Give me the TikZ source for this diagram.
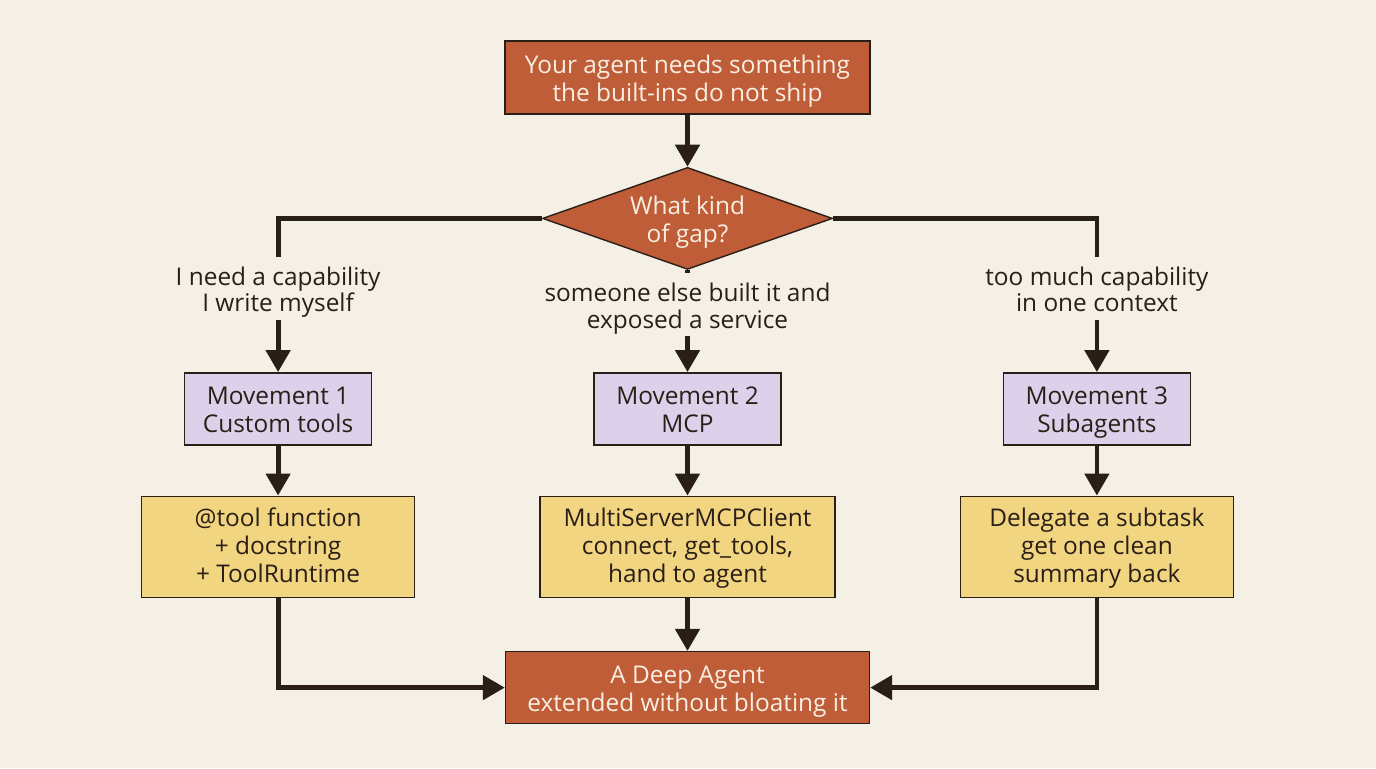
\documentclass[tikz,border=0pt]{standalone}
\usepackage{fontspec}
\setmainfont{Open Sans}
\usetikzlibrary{positioning,shapes.geometric,arrows.meta}
\definecolor{paper}{HTML}{F4F0E5}
\definecolor{rust}{HTML}{BF5D38}
\definecolor{lilac}{HTML}{DCD1EA}
\definecolor{butter}{HTML}{F2D581}
\definecolor{ink}{HTML}{2A1F17}
\definecolor{cream}{HTML}{F8EFE2}

\begin{document}
\begin{tikzpicture}[
  x=0.5pt, y=-0.5pt,
  font=\fontsize{12.2}{14}\selectfont,
  box/.style={draw=ink, line width=0.7pt, align=center, inner sep=0pt,
    text height=27pt, text depth=3pt},
  endbox/.style={box, fill=rust, text=cream, minimum width=182.5pt, minimum height=36.5pt},
  choice/.style={diamond, box, fill=rust, text=cream,
    aspect=2.84, minimum width=145pt, minimum height=51pt},
  movebox/.style={box, fill=lilac, text=ink, minimum width=93.5pt, minimum height=36pt},
  howbox/.style={box, fill=butter, text=ink, minimum width=136.5pt, minimum height=50.5pt,
    text height=38.5pt},
  flow/.style={draw=ink, line width=2.4pt, -{Triangle[length=11pt,width=12pt]}},
  lbl/.style={fill=paper, text=ink, align=center, inner xsep=3pt, inner ysep=0pt,
    font=\fontsize{12.2}{13.2}\selectfont, text height=27.4pt, text depth=4pt}
]
\fill[paper] (0,0) rectangle (1376,768);
\useasboundingbox (0,0) rectangle (1376,768);

\node[endbox] (need) at (687.5,77.5) {Your agent needs something\\the built-ins do not ship};
\node[choice, below=26pt of need] (gap) {What kind\\of gap?};
\node[movebox, below=51pt of gap] (m2) {Movement 2\\MCP};
\node[movebox, left=110.5pt of m2] (m1) {Movement 1\\Custom tools};
\node[movebox, right=110.5pt of m2] (m3) {Movement 3\\Subagents};
\node[howbox, below=25pt of m1] (tools) {@tool function\\+ docstring\\+ ToolRuntime};
\node[howbox, minimum width=147.5pt, below=25pt of m2] (mcp) {MultiServerMCPClient\\connect, get\_tools,\\hand to agent};
\node[howbox, below=25pt of m3] (sub) {Delegate a subtask\\get one clean\\summary back};
\node[endbox, minimum width=182pt, minimum height=36pt, below=26.5pt of mcp] (goal) {A Deep Agent\\extended without bloating it};

\path[flow] (need) -- (gap);
\path[flow] (gap.west) -| node[lbl, pos=0.727] {I need a capability\\I write myself} (m1.north);
\path[flow] (gap.south) -- node[lbl, pos=0.34] {someone else built it and\\exposed a service} (m2.north);
\path[flow] (gap.east) -| node[lbl, pos=0.727] {too much capability\\in one context} (m3.north);
\path[flow] (m1) -- (tools);
\path[flow] (m2) -- (mcp);
\path[flow] (m3) -- (sub);
\path[flow] (tools.south) |- (goal.west);
\path[flow] (mcp) -- (goal);
\path[flow] (sub.south) |- (goal.east);
\end{tikzpicture}
\end{document}
